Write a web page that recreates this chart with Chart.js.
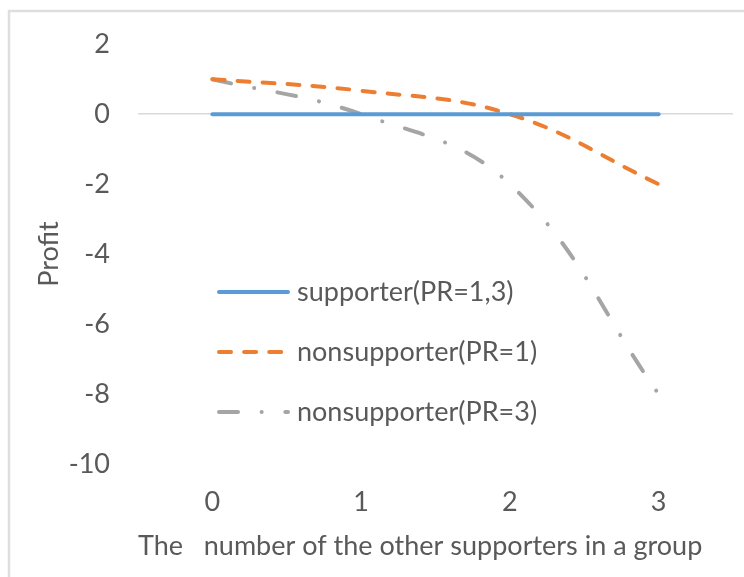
<!DOCTYPE html>
<html>
<head>
<meta charset="utf-8">
<script src="https://cdn.jsdelivr.net/npm/chart.js@4.4.0/dist/chart.umd.min.js"></script>
<style>
  body { margin: 0; background: #fff; }
  #wrap { position: relative; width: 744px; height: 577px; }
</style>
</head>
<body>
<div id="wrap"><canvas id="profit_chart" width="744" height="577"></canvas></div>
<script>
// values
var labels = ['0', '1', '2', '3'];
var supporter = [0, 0, 0, 0];
var nonsupporterPR1 = [1, 0.67, 0, -2];
var nonsupporterPR3 = [1, 0, -2, -8];
var seriesNames = ['supporter(PR=1,3)', 'nonsupporter(PR=1)', 'nonsupporter(PR=3)'];
var yMin = -10, yMax = 2, yStep = 2;

var textColor = '#595959';
var fontFamily = 'Lato, "Open Sans", sans-serif';
var fontSize = 27;

// light frame round the chart (top and left edges only show)
var frame = {
    id: 'frame',
    beforeDraw: function(chart) {
        var ctx = chart.ctx;
        ctx.save();
        ctx.fillStyle = '#fff';
        ctx.fillRect(0, 0, chart.width, chart.height);
        ctx.strokeStyle = '#dedede';
        ctx.lineWidth = 2.5;
        ctx.beginPath();
        ctx.moveTo(9, chart.height);
        ctx.lineTo(9, 11);
        ctx.lineTo(chart.width, 11);
        ctx.stroke();
        ctx.restore();
    }
};

// legend drawn inside the plot, one item per row
var innerLegend = {
    id: 'innerLegend',
    afterDatasetsDraw: function(chart) {
        var ctx = chart.ctx;
        var lineEnd = [288, 283, 288];
        chart.data.datasets.forEach(function(ds, i) {
            var y = 292 + i * 60;
            ctx.save();
            ctx.strokeStyle = ds.borderColor;
            ctx.lineWidth = ds.borderWidth;
            ctx.lineCap = 'round';
            ctx.setLineDash(ds.borderDash || []);
            ctx.beginPath();
            ctx.moveTo(219, y);
            ctx.lineTo(lineEnd[i], y);
            ctx.stroke();
            ctx.setLineDash([]);
            ctx.fillStyle = textColor;
            ctx.font = fontSize + 'px ' + fontFamily;
            ctx.textBaseline = 'middle';
            ctx.textAlign = 'left';
            ctx.fillText(ds.label, 297, y);
            ctx.restore();
        });
    }
};

var ctxProfit = document.getElementById('profit_chart').getContext('2d');

var profit_chart = new Chart(ctxProfit, {
    type: 'line',
    data: {
        labels: labels,
        datasets: [{
            label: seriesNames[0],
            data: supporter,
            borderColor: '#5B9BD5',
            borderWidth: 4,
            borderCapStyle: 'round'
        }, {
            label: seriesNames[1],
            data: nonsupporterPR1,
            borderColor: '#ED7D31',
            borderWidth: 4,
            borderCapStyle: 'round',
            borderDash: [12, 13.1]
        }, {
            label: seriesNames[2],
            data: nonsupporterPR3,
            borderColor: '#A5A5A5',
            borderWidth: 4,
            borderCapStyle: 'round',
            borderDash: [19, 23.6, 0.1, 23.6]
        }]
    },
    options: {
        responsive: false,
        animation: false,
        devicePixelRatio: 1,
        layout: { padding: { left: 0, top: 41, right: 11, bottom: 0 } },
        elements: {
            line: { tension: 0.4, fill: false },
            point: { radius: 0, hoverRadius: 0 }
        },
        plugins: {
            legend: { display: false },
            tooltip: { enabled: false }
        },
        scales: {
            x: {
                type: 'category',
                offset: true,
                grid: { display: false, drawTicks: false },
                border: { display: false },
                ticks: {
                    color: textColor,
                    font: { family: fontFamily, size: fontSize },
                    padding: 22,
                    maxRotation: 0
                },
                title: {
                    display: true,
                    text: 'The   number of the other supporters in a group',
                    align: 'start',
                    color: textColor,
                    font: { family: fontFamily, size: fontSize },
                    padding: { top: 0, bottom: 15 }
                },
                afterFit: function(scale) { scale.height = 577 - 464; }
            },
            y: {
                min: yMin,
                max: yMax,
                grid: {
                    drawTicks: false,
                    lineWidth: 1.5,
                    color: function(c) { return c.tick && c.tick.value === 0 ? '#d9d9d9' : 'rgba(0,0,0,0)'; }
                },
                border: { display: false },
                ticks: {
                    stepSize: yStep,
                    color: textColor,
                    font: { family: fontFamily, size: fontSize },
                    padding: 28
                },
                title: {
                    display: true,
                    text: 'Profit',
                    color: textColor,
                    font: { family: fontFamily, size: fontSize },
                    padding: { top: 33, bottom: 0 }
                },
                afterFit: function(scale) { scale.width = 138; }
            }
        }
    },
    plugins: [frame, innerLegend]
});
</script>
</body>
</html>
